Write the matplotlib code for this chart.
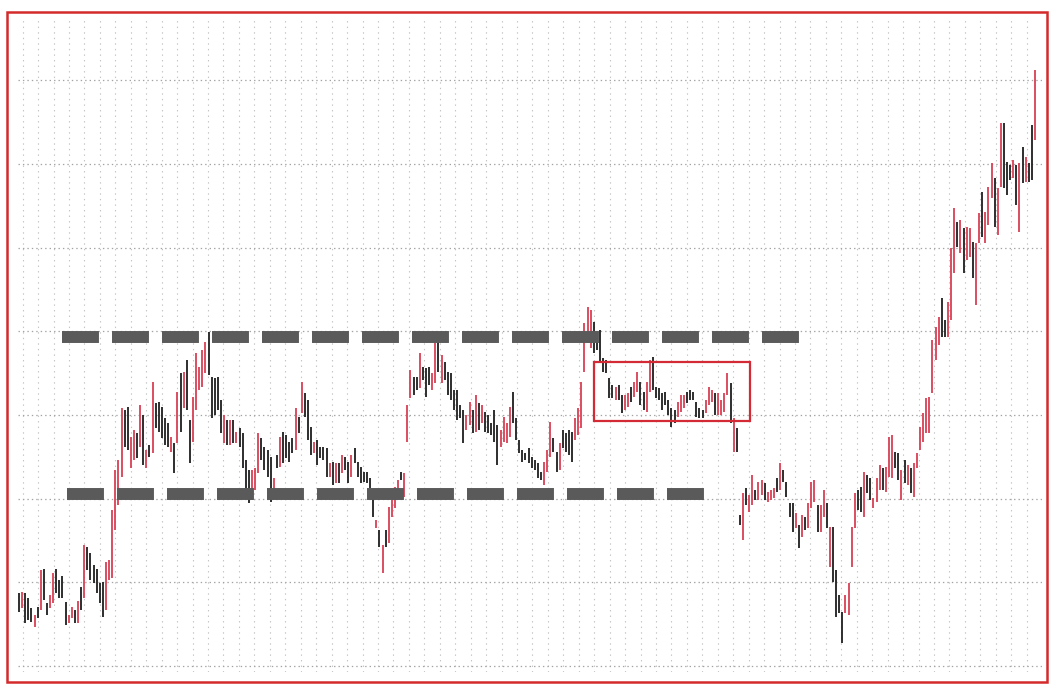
import numpy as np
import matplotlib
matplotlib.use("Agg")
import matplotlib.pyplot as plt
from matplotlib.patches import Rectangle

plt.rcParams['lines.scale_dashes'] = False

# ---- data: bar highs, lows and direction (1 = up/red, 0 = down/black) ----
highs = [
    107,108,107,102,92,85,93,130,131,97,105,127,131,120,124,98,85,93,90,99,
    113,155,153,147,135,131,117,118,138,140,190,230,240,292,290,293,263,270,267,295,
    285,250,255,318,297,298,293,282,277,263,257,308,327,328,340,280,
    303,347,333,350,358,368,323,322,323,300,285,280,280,280,268,272,267,240,230,230,
    232,267,262,253,250,243,222,245,263,268,265,258,262,292,283,318,307,300,273,258,
    260,253,253,252,237,238,237,237,245,243,238,245,252,238,233,
    228,228,222,208,180,170,155,170,193,200,213,220,228,227,295,330,323,323,347,333,
    332,333,327,357,360,345,338,328,327,310,310,295,290,285,298,290,305,297,295,288,
    285,277,290,275,270,283,277,293,308,282,260,250,247,252,243,240,237,228,238,250,
    278,262,248,257,270,267,270,268,282,292,318,
    377,393,390,378,367,370,342,340,322,315,313,315,305,305,307,313,318,328,318,308,
    318,340,343,313,312,307,308,300,292,290,298,305,305,308,310,308,298,292,290,300,
    313,310,307,307,300,307,327,317,282,272,
    185,207,212,205,225,210,218,220,217,208,210,212,222,237,230,218,197,197,187,175,
    185,183,197,218,220,195,195,210,197,173,173,130,105,88,105,117,173,207,210,213,
    228,225,
    222,202,222,235,232,233,263,265,248,247,230,240,235,232,237,247,273,287,302,303,
    360,373,383,402,380,398,452,492,478,480,472,473,472,458,457,487,508,488,513,537,
    522,512,577,577,538,535,540,535,537,553,543,537,575,630,
]
lows = [
    88,92,77,80,78,73,82,90,100,85,92,97,107,102,102,75,77,82,77,77,
    90,102,130,120,117,107,97,83,90,120,122,170,195,223,253,250,232,240,242,253,
    235,232,243,247,272,268,262,255,253,248,227,257,268,292,290,237,
    258,290,310,313,327,325,282,285,290,267,257,255,255,257,257,253,232,207,197,200,
    210,227,240,230,223,198,205,232,233,237,242,238,247,250,267,287,283,260,245,247,
    235,242,240,223,223,215,217,217,227,230,217,223,237,223,217,
    218,217,212,183,172,153,127,153,157,183,192,203,220,203,258,302,305,310,312,320,
    303,315,310,317,328,317,320,305,300,290,280,282,257,270,275,267,268,270,277,268,
    267,265,258,235,253,258,257,263,277,260,247,238,240,237,232,230,222,220,215,228,
    243,248,228,230,252,248,245,238,260,265,272,
    328,357,352,347,350,337,328,327,302,302,300,300,287,290,293,298,303,308,295,290,
    288,308,310,302,300,290,295,285,273,277,283,288,292,297,300,300,283,282,282,287,
    295,298,285,285,285,288,305,277,248,248,
    175,160,195,188,195,200,200,205,200,198,200,202,208,210,218,203,183,168,172,152,
    163,170,172,192,198,168,168,183,172,133,118,83,87,57,87,85,133,172,190,188,
    183,207,
    200,192,198,210,210,208,223,222,232,220,200,217,215,207,203,232,250,258,267,267,
    307,340,355,363,363,363,380,427,453,447,427,440,443,422,395,457,463,457,475,502,
    473,465,513,512,505,520,522,495,468,517,518,518,520,560,
]
up = [
    0,1,0,0,0,1,0,1,0,0,1,1,0,0,0,0,1,1,0,1,
    0,1,0,0,0,0,0,0,1,1,1,1,1,1,0,0,1,1,0,1,
    0,1,0,1,0,0,0,0,0,1,0,1,0,1,0,0,
    1,1,1,1,1,0,0,0,0,0,1,0,1,0,1,0,0,0,0,1,
    1,1,0,0,0,0,1,0,1,0,0,0,0,1,0,1,0,0,0,1,
    0,0,0,0,1,0,1,0,1,0,0,1,0,0,0,
    0,0,0,0,1,0,1,0,1,1,1,1,0,1,1,1,0,0,1,0,
    0,0,1,1,0,1,0,0,0,0,0,0,0,1,1,0,1,0,1,0,
    0,0,0,0,1,1,1,1,0,0,0,0,0,0,0,0,0,0,1,1,
    1,0,0,1,0,0,0,0,1,1,1,
    1,1,1,0,0,0,0,0,0,0,1,0,0,1,1,0,1,1,0,0,
    1,1,0,0,0,0,0,0,0,0,1,1,1,0,0,0,0,0,0,1,
    1,1,0,1,1,1,1,0,1,0,
    0,1,0,1,1,0,1,1,0,1,1,1,0,1,0,0,0,0,1,0,
    1,0,1,1,1,0,1,1,0,1,0,0,0,0,1,1,1,1,0,0,
    1,0,
    0,1,1,1,0,1,1,1,0,0,1,0,1,0,1,1,1,1,1,1,
    1,1,1,0,0,1,1,1,0,1,0,1,1,0,1,1,0,1,1,1,
    0,1,1,0,0,0,1,0,1,0,1,0,0,1,
]

# horizontal reference levels and range box
resistance = 363
support = 206
box_low, box_high = 279, 338

# ---- figure ----
W, H = 1056, 688
fig = plt.figure(figsize=(W / 100, H / 100), dpi=100, facecolor='white')

# axes spanning pixel region x 18..1042, y 18..672
ax = fig.add_axes([18 / W, (H - 672) / H, (1042 - 18) / W, (672 - 18) / H])
ax.set_facecolor('white')
for s in ax.spines.values():
    s.set_visible(False)

n = len(highs)
x = np.arange(n)
dx = (1035 - 19) / (n - 1)           # pixels per bar
ax.set_xlim(-1 / dx, (1042 - 19) / dx)
ax.set_ylim(28, 682)

# grid
vgrid = np.arange(3.7 / dx, (1042 - 19) / dx, 15.446 / dx)
for gx in vgrid:
    ax.axvline(gx, color='#c4c4c4', lw=0.8, linestyle=(0, (1, 3.0)), zorder=0)
hgrid = 34 + 83.7 * np.arange(8)
for gy in hgrid:
    ax.axhline(gy, color='#a3a3a3', lw=0.9, linestyle=(0, (1, 2.2)), zorder=0)

# bars
red = '#d8475a'
black = '#262626'
colors = [red if u else black for u in up]
ax.vlines(x, lows, highs, colors=colors, linewidth=1.35, zorder=3)

# dashed support / resistance lines
def px2i(px):
    return (px - 19) / dx

dash = (26.6, 9.4)
ax.plot([px2i(62), px2i(800)], [resistance, resistance], color='#5a5a5a',
        lw=8.6, linestyle=(0, dash), dash_capstyle='butt', zorder=4)
ax.plot([px2i(67), px2i(705)], [support, support], color='#5a5a5a',
        lw=8.6, linestyle=(0, dash), dash_capstyle='butt', zorder=4)

# range box
ax.add_patch(Rectangle((px2i(594), box_low), px2i(750) - px2i(594), box_high - box_low,
                       fill=False, edgecolor='#d42a35', lw=1.6, zorder=5))

ax.set_xticks([])
ax.set_yticks([])

# outer red frame
fig.patches.append(Rectangle((7 / W, 6 / H), 1040 / W, 670 / H, transform=fig.transFigure,
                             fill=False, edgecolor='#d42a2a', lw=1.8))

fig.savefig('out.png', dpi=100, facecolor='white')
